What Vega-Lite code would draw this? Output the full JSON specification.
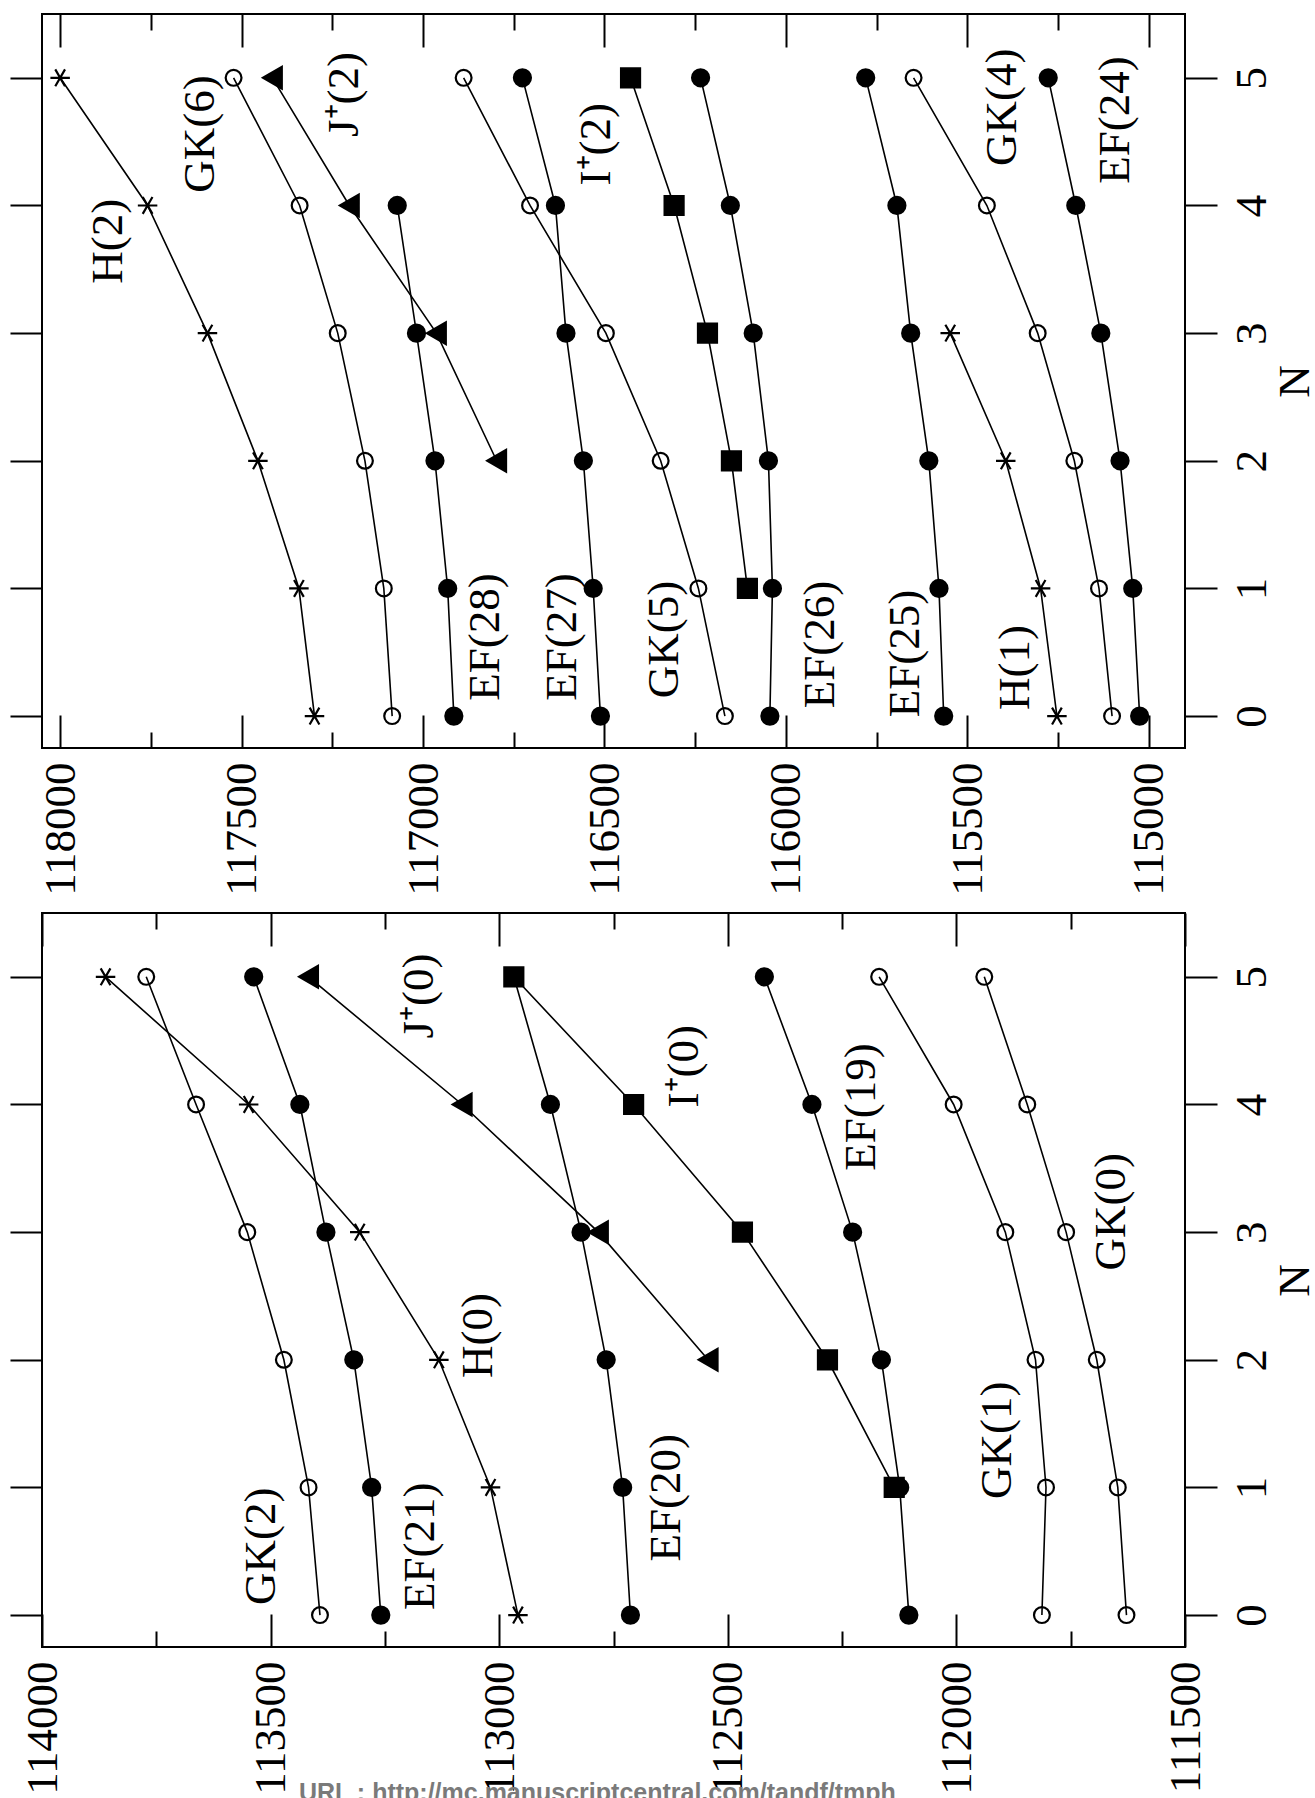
{
  "$schema": "https://vega.github.io/schema/vega-lite/v6.json",
  "padding": {"left": 8, "top": 12, "right": 0, "bottom": 0},
  "spacing": 14,
  "config": {
    "font": "Liberation Serif",
    "view": {"stroke": "black", "strokeWidth": 2},
    "axis": {"labelFont": "Liberation Serif", "labelFontSize": 45, "labelColor": "black", "tickColor": "black", "tickWidth": 2, "domain": false, "grid": false, "titleFont": "Liberation Serif", "titleFontSize": 45, "titleFontWeight": "normal", "titleColor": "black", "labelFlush": false, "labelOverlap": false, "labelBound": false}
  },
  "datasets": {
    "top": [
      {"s":"H(2)","t":"H","N":5,"E":118000},{"s":"H(2)","t":"H","N":4,"E":117759},{"s":"H(2)","t":"H","N":3,"E":117594},{"s":"H(2)","t":"H","N":2,"E":117455},{"s":"H(2)","t":"H","N":1,"E":117342},{"s":"H(2)","t":"H","N":0,"E":117299},
      {"s":"GK(6)","t":"GK","N":5,"E":117522},{"s":"GK(6)","t":"GK","N":4,"E":117340},{"s":"GK(6)","t":"GK","N":3,"E":117235},{"s":"GK(6)","t":"GK","N":2,"E":117160},{"s":"GK(6)","t":"GK","N":1,"E":117108},{"s":"GK(6)","t":"GK","N":0,"E":117085},
      {"s":"J+(2)","t":"J","N":5,"E":117415},{"s":"J+(2)","t":"J","N":4,"E":117203},{"s":"J+(2)","t":"J","N":3,"E":116963},{"s":"J+(2)","t":"J","N":2,"E":116797},
      {"s":"EF(28)","t":"EF","N":4,"E":117071},{"s":"EF(28)","t":"EF","N":3,"E":117018},{"s":"EF(28)","t":"EF","N":2,"E":116967},{"s":"EF(28)","t":"EF","N":1,"E":116932},{"s":"EF(28)","t":"EF","N":0,"E":116915},
      {"s":"GK(5)","t":"GK","N":5,"E":116888},{"s":"GK(5)","t":"GK","N":4,"E":116705},{"s":"GK(5)","t":"GK","N":3,"E":116496},{"s":"GK(5)","t":"GK","N":2,"E":116345},{"s":"GK(5)","t":"GK","N":1,"E":116241},{"s":"GK(5)","t":"GK","N":0,"E":116168},
      {"s":"EF(27)","t":"EF","N":5,"E":116726},{"s":"EF(27)","t":"EF","N":4,"E":116635},{"s":"EF(27)","t":"EF","N":3,"E":116606},{"s":"EF(27)","t":"EF","N":2,"E":116558},{"s":"EF(27)","t":"EF","N":1,"E":116531},{"s":"EF(27)","t":"EF","N":0,"E":116511},
      {"s":"I+(2)","t":"I","N":5,"E":116428},{"s":"I+(2)","t":"I","N":4,"E":116308},{"s":"I+(2)","t":"I","N":3,"E":116216},{"s":"I+(2)","t":"I","N":2,"E":116150},{"s":"I+(2)","t":"I","N":1,"E":116106},
      {"s":"EF(26)","t":"EF","N":5,"E":116235},{"s":"EF(26)","t":"EF","N":4,"E":116153},{"s":"EF(26)","t":"EF","N":3,"E":116090},{"s":"EF(26)","t":"EF","N":2,"E":116048},{"s":"EF(26)","t":"EF","N":1,"E":116037},{"s":"EF(26)","t":"EF","N":0,"E":116044},
      {"s":"EF(25)","t":"EF","N":5,"E":115780},{"s":"EF(25)","t":"EF","N":4,"E":115694},{"s":"EF(25)","t":"EF","N":3,"E":115656},{"s":"EF(25)","t":"EF","N":2,"E":115606},{"s":"EF(25)","t":"EF","N":1,"E":115578},{"s":"EF(25)","t":"EF","N":0,"E":115565},
      {"s":"H(1)","t":"H","N":3,"E":115547},{"s":"H(1)","t":"H","N":2,"E":115394},{"s":"H(1)","t":"H","N":1,"E":115298},{"s":"H(1)","t":"H","N":0,"E":115253},
      {"s":"GK(4)","t":"GK","N":5,"E":115648},{"s":"GK(4)","t":"GK","N":4,"E":115446},{"s":"GK(4)","t":"GK","N":3,"E":115306},{"s":"GK(4)","t":"GK","N":2,"E":115205},{"s":"GK(4)","t":"GK","N":1,"E":115137},{"s":"GK(4)","t":"GK","N":0,"E":115101},
      {"s":"EF(24)","t":"EF","N":5,"E":115277},{"s":"EF(24)","t":"EF","N":4,"E":115201},{"s":"EF(24)","t":"EF","N":3,"E":115132},{"s":"EF(24)","t":"EF","N":2,"E":115079},{"s":"EF(24)","t":"EF","N":1,"E":115044},{"s":"EF(24)","t":"EF","N":0,"E":115025}
    ],
    "bottom": [
      {"s":"H(0)","t":"H","N":5,"E":113861},{"s":"H(0)","t":"H","N":4,"E":113548},{"s":"H(0)","t":"H","N":3,"E":113305},{"s":"H(0)","t":"H","N":2,"E":113132},{"s":"H(0)","t":"H","N":1,"E":113019},{"s":"H(0)","t":"H","N":0,"E":112959},
      {"s":"GK(2)","t":"GK","N":5,"E":113772},{"s":"GK(2)","t":"GK","N":4,"E":113663},{"s":"GK(2)","t":"GK","N":3,"E":113551},{"s":"GK(2)","t":"GK","N":2,"E":113471},{"s":"GK(2)","t":"GK","N":1,"E":113417},{"s":"GK(2)","t":"GK","N":0,"E":113392},
      {"s":"EF(21)","t":"EF","N":5,"E":113537},{"s":"EF(21)","t":"EF","N":4,"E":113436},{"s":"EF(21)","t":"EF","N":3,"E":113379},{"s":"EF(21)","t":"EF","N":2,"E":113318},{"s":"EF(21)","t":"EF","N":1,"E":113279},{"s":"EF(21)","t":"EF","N":0,"E":113259},
      {"s":"J+(0)","t":"J","N":5,"E":113417},{"s":"J+(0)","t":"J","N":4,"E":113081},{"s":"J+(0)","t":"J","N":3,"E":112783},{"s":"J+(0)","t":"J","N":2,"E":112543},
      {"s":"EF(20)","t":"EF","N":5,"E":112968},{"s":"EF(20)","t":"EF","N":4,"E":112888},{"s":"EF(20)","t":"EF","N":3,"E":112821},{"s":"EF(20)","t":"EF","N":2,"E":112766},{"s":"EF(20)","t":"EF","N":1,"E":112730},{"s":"EF(20)","t":"EF","N":0,"E":112713},
      {"s":"I+(0)","t":"I","N":5,"E":112968},{"s":"I+(0)","t":"I","N":4,"E":112706},{"s":"I+(0)","t":"I","N":3,"E":112468},{"s":"I+(0)","t":"I","N":2,"E":112282},{"s":"I+(0)","t":"I","N":1,"E":112136},
      {"s":"EF(19)","t":"EF","N":5,"E":112420},{"s":"EF(19)","t":"EF","N":4,"E":112316},{"s":"EF(19)","t":"EF","N":3,"E":112227},{"s":"EF(19)","t":"EF","N":2,"E":112164},{"s":"EF(19)","t":"EF","N":1,"E":112124},{"s":"EF(19)","t":"EF","N":0,"E":112104},
      {"s":"GK(1)","t":"GK","N":5,"E":112169},{"s":"GK(1)","t":"GK","N":4,"E":112006},{"s":"GK(1)","t":"GK","N":3,"E":111893},{"s":"GK(1)","t":"GK","N":2,"E":111827},{"s":"GK(1)","t":"GK","N":1,"E":111804},{"s":"GK(1)","t":"GK","N":0,"E":111813},
      {"s":"GK(0)","t":"GK","N":5,"E":111939},{"s":"GK(0)","t":"GK","N":4,"E":111845},{"s":"GK(0)","t":"GK","N":3,"E":111760},{"s":"GK(0)","t":"GK","N":2,"E":111693},{"s":"GK(0)","t":"GK","N":1,"E":111647},{"s":"GK(0)","t":"GK","N":0,"E":111628}
    ],
    "topLabels": [
      {"label":"H(2)","E":117867,"N":3.72},
      {"label":"GK(6)","E":117615,"N":4.56},
      {"label":"J⁺(2)","E":117218,"N":4.87},
      {"label":"I⁺(2)","E":116523,"N":4.48},
      {"label":"EF(28)","E":116830,"N":0.62},
      {"label":"EF(27)","E":116618,"N":0.62},
      {"label":"GK(5)","E":116335,"N":0.6},
      {"label":"EF(26)","E":115906,"N":0.56},
      {"label":"EF(25)","E":115671,"N":0.49},
      {"label":"H(1)","E":115368,"N":0.38},
      {"label":"GK(4)","E":115403,"N":4.77},
      {"label":"EF(24)","E":115093,"N":4.67}
    ],
    "bottomLabels": [
      {"label":"GK(2)","E":113520,"N":0.54},
      {"label":"EF(21)","E":113174,"N":0.54},
      {"label":"H(0)","E":113047,"N":2.19},
      {"label":"J⁺(0)","E":113176,"N":4.85},
      {"label":"EF(20)","E":112635,"N":0.92},
      {"label":"I⁺(0)","E":112595,"N":4.3},
      {"label":"EF(19)","E":112209,"N":3.98},
      {"label":"GK(1)","E":111911,"N":1.37},
      {"label":"GK(0)","E":111661,"N":3.16}
    ]
  },
  "vconcat": [
    {
      "width": 1143,
      "height": 734,
      "resolve": {"axis": {"x": "independent", "y": "independent"}},
      "layer": [
        {
          "data": {"name": "top"},
          "mark": {"type": "line", "color": "black", "strokeWidth": 1.6},
          "encoding": {
            "x": {"field": "E", "type": "quantitative", "scale": {"domain": [114900, 118050], "reverse": true, "nice": false, "zero": false},
              "axis": {"orient": "bottom", "values": [115000,115250,115500,115750,116000,116250,116500,116750,117000,117250,117500,117750,118000], "format": "d", "labelExpr": "datum.value % 500 === 0 ? datum.label : ''", "tickSize": {"condition": {"test": "datum.value % 500 === 0", "value": -33}, "value": -16}, "labelAngle": 270, "labelAlign": "right", "labelBaseline": "middle", "labelPadding": 47, "title": null}},
            "y": {"field": "N", "type": "quantitative", "scale": {"domain": [-0.25, 5.5], "nice": false, "zero": false},
              "axis": {"orient": "right", "values": [0,1,2,3,4,5], "format": "d", "tickSize": 32, "labelAngle": 270, "labelAlign": "center", "labelBaseline": "top", "labelPadding": 12, "title": "N", "titleAngle": 270, "titleBaseline": "top", "titlePadding": -2}},
            "detail": {"field": "s"},
            "order": {"field": "N", "type": "quantitative"}
          }
        },
        {
          "data": {"name": "top"},
          "mark": {"type": "point", "opacity": 1, "strokeWidth": 2.2, "stroke": "black"},
          "encoding": {
            "x": {"field": "E", "type": "quantitative", "axis": null},
            "y": {"field": "N", "type": "quantitative", "axis": null},
            "shape": {"field": "t", "type": "nominal", "scale": {"domain": ["EF","GK","H","I","J"], "range": ["circle","circle","M-1,0L1,0M-0.5,-0.866L0.5,0.866M-0.5,0.866L0.5,-0.866","square","triangle-left"]}, "legend": null},
            "fill": {"field": "t", "type": "nominal", "scale": {"domain": ["EF","GK","H","I","J"], "range": ["black","transparent","transparent","black","black"]}, "legend": null},
            "size": {"field": "t", "type": "nominal", "scale": {"type": "ordinal", "domain": ["EF","GK","H","I","J"], "range": [290, 250, 380, 361, 470]}, "legend": null}
          }
        },
        {
          "data": {"name": "topLabels"},
          "mark": {"type": "text", "angle": 270, "align": "center", "baseline": "middle", "fontSize": 45, "font": "Liberation Serif", "color": "black"},
          "encoding": {
            "x": {"field": "E", "type": "quantitative",
              "axis": {"orient": "top", "values": [115000,115250,115500,115750,116000,116250,116500,116750,117000,117250,117500,117750,118000], "labels": false, "tickSize": {"condition": {"test": "datum.value % 500 === 0", "value": -33}, "value": -16}, "title": null}},
            "y": {"field": "N", "type": "quantitative",
              "axis": {"orient": "left", "values": [0,1,2,3,4,5], "labels": false, "tickSize": 32, "title": null}},
            "text": {"field": "label"}
          }
        }
      ]
    },
    {
      "width": 1143,
      "height": 734,
      "title": {"text": "URL : http://mc.manuscriptcentral.com/tandf/tmph", "orient": "bottom", "anchor": "start", "frame": "group", "dx": 257, "offset": -13, "baseline": "top", "font": "Liberation Sans", "fontWeight": "bold", "fontSize": 25, "color": "#7a7a7a"},
      "resolve": {"axis": {"x": "independent", "y": "independent"}},
      "layer": [
        {
          "data": {"name": "bottom"},
          "mark": {"type": "line", "color": "black", "strokeWidth": 1.6},
          "encoding": {
            "x": {"field": "E", "type": "quantitative", "scale": {"domain": [111500, 114000], "reverse": true, "nice": false, "zero": false},
              "axis": {"orient": "bottom", "values": [111500,111750,112000,112250,112500,112750,113000,113250,113500,113750,114000], "format": "d", "labelExpr": "datum.value % 500 === 0 ? datum.label : ''", "tickSize": {"condition": {"test": "datum.value % 500 === 0", "value": -33}, "value": -16}, "labelAngle": 270, "labelAlign": "right", "labelBaseline": "middle", "labelPadding": 47, "title": null}},
            "y": {"field": "N", "type": "quantitative", "scale": {"domain": [-0.25, 5.5], "nice": false, "zero": false},
              "axis": {"orient": "right", "values": [0,1,2,3,4,5], "format": "d", "tickSize": 32, "labelAngle": 270, "labelAlign": "center", "labelBaseline": "top", "labelPadding": 12, "title": "N", "titleAngle": 270, "titleBaseline": "top", "titlePadding": -2}},
            "detail": {"field": "s"},
            "order": {"field": "N", "type": "quantitative"}
          }
        },
        {
          "data": {"name": "bottom"},
          "mark": {"type": "point", "opacity": 1, "strokeWidth": 2.2, "stroke": "black"},
          "encoding": {
            "x": {"field": "E", "type": "quantitative", "axis": null},
            "y": {"field": "N", "type": "quantitative", "axis": null},
            "shape": {"field": "t", "type": "nominal", "scale": {"domain": ["EF","GK","H","I","J"], "range": ["circle","circle","M-1,0L1,0M-0.5,-0.866L0.5,0.866M-0.5,0.866L0.5,-0.866","square","triangle-left"]}, "legend": null},
            "fill": {"field": "t", "type": "nominal", "scale": {"domain": ["EF","GK","H","I","J"], "range": ["black","transparent","transparent","black","black"]}, "legend": null},
            "size": {"field": "t", "type": "nominal", "scale": {"type": "ordinal", "domain": ["EF","GK","H","I","J"], "range": [290, 250, 380, 361, 470]}, "legend": null}
          }
        },
        {
          "data": {"name": "bottomLabels"},
          "mark": {"type": "text", "angle": 270, "align": "center", "baseline": "middle", "fontSize": 45, "font": "Liberation Serif", "color": "black"},
          "encoding": {
            "x": {"field": "E", "type": "quantitative",
              "axis": {"orient": "top", "values": [111500,111750,112000,112250,112500,112750,113000,113250,113500,113750,114000], "labels": false, "tickSize": {"condition": {"test": "datum.value % 500 === 0", "value": -33}, "value": -16}, "title": null}},
            "y": {"field": "N", "type": "quantitative",
              "axis": {"orient": "left", "values": [0,1,2,3,4,5], "labels": false, "tickSize": 32, "title": null}},
            "text": {"field": "label"}
          }
        }
      ]
    }
  ]
}
